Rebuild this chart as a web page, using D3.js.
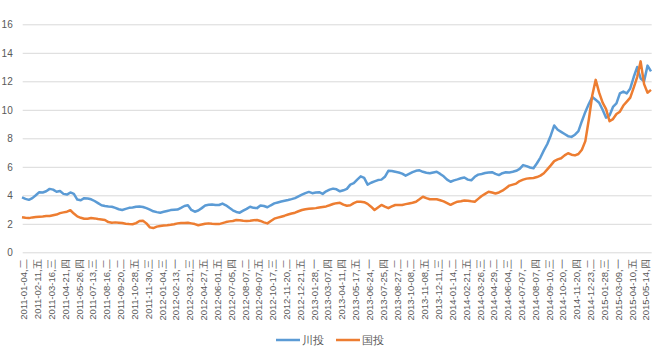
<!DOCTYPE html>
<html>
<head>
<meta charset="utf-8">
<script src="https://cdn.jsdelivr.net/npm/d3@7"></script>
<style>
body { margin: 0; background: #fff; }
text { font-family: "Liberation Sans", Arial, sans-serif; fill: #595959; }
</style>
</head>
<body>
<div id="chart"></div>
<script>
// one label every 4 points (points are ~6 trading days apart)
const tickLabels = [
  '2011-01-04,二','2011-02-11,五','2011-03-16,三','2011-04-21,四','2011-05-26,四',
  '2011-07-13,三','2011-08-16,二','2011-09-20,二','2011-10-28,五','2011-11-30,三',
  '2012-01-04,三','2012-02-13,一','2012-03-21,三','2012-04-27,五','2012-06-01,五',
  '2012-07-05,四','2012-08-07,二','2012-09-07,五','2012-10-17,三','2012-11-20,二',
  '2012-12-21,五','2013-01-28,一','2013-03-07,四','2013-04-11,四','2013-05-17,五',
  '2013-06-24,一','2013-07-25,四','2013-08-27,二','2013-10-08,二','2013-11-08,五',
  '2013-12-11,三','2014-01-14,二','2014-02-21,五','2014-03-26,三','2014-04-29,二',
  '2014-06-04,三','2014-07-07,一','2014-08-07,四','2014-09-10,三','2014-10-20,一',
  '2014-11-20,四','2014-12-23,二','2015-01-28,三','2015-03-09,一','2015-04-10,五',
  '2015-05-14,四'
];
const perTick = 4;

const chuantou = [
  3.85,3.75,3.68,3.80,4.00,4.22,4.20,4.28,4.45,4.40,
  4.25,4.30,4.10,4.05,4.20,4.10,3.70,3.65,3.80,3.78,
  3.72,3.60,3.45,3.30,3.25,3.22,3.20,3.12,3.02,2.97,
  3.05,3.12,3.15,3.20,3.22,3.18,3.10,3.00,2.88,2.82,
  2.78,2.84,2.90,2.96,2.98,3.00,3.12,3.25,3.30,2.97,
  2.85,2.93,3.10,3.28,3.33,3.35,3.32,3.32,3.42,3.30,
  3.12,2.95,2.83,2.78,2.92,3.05,3.20,3.12,3.10,3.28,
  3.25,3.16,3.30,3.43,3.50,3.56,3.62,3.67,3.73,3.80,
  3.92,4.04,4.15,4.24,4.15,4.20,4.22,4.10,4.28,4.40,
  4.47,4.42,4.28,4.35,4.45,4.75,4.85,5.10,5.33,5.22,
  4.75,4.88,4.98,5.07,5.10,5.30,5.72,5.70,5.65,5.60,
  5.52,5.38,5.50,5.62,5.72,5.75,5.65,5.58,5.55,5.60,
  5.65,5.50,5.33,5.10,4.95,5.05,5.12,5.20,5.25,5.10,
  5.05,5.30,5.45,5.50,5.56,5.60,5.62,5.50,5.42,5.55,
  5.62,5.60,5.65,5.72,5.85,6.12,6.05,5.95,5.90,6.25,
  6.65,7.15,7.60,8.20,8.90,8.60,8.45,8.30,8.15,8.10,
  8.25,8.50,9.20,9.85,10.40,10.90,10.70,10.50,10.00,9.45,
  9.60,10.20,10.45,11.15,11.28,11.15,11.50,12.30,13.00,12.20,
  12.00,13.10,12.70
];

const guotou = [
  2.46,2.42,2.40,2.45,2.48,2.50,2.52,2.55,2.55,2.60,
  2.65,2.75,2.80,2.85,2.95,2.72,2.52,2.42,2.35,2.36,
  2.40,2.38,2.33,2.30,2.27,2.12,2.08,2.10,2.08,2.05,
  2.00,1.98,1.97,2.05,2.20,2.22,2.03,1.75,1.70,1.80,
  1.85,1.88,1.90,1.93,1.97,2.03,2.05,2.06,2.08,2.03,
  1.98,1.90,1.95,2.00,2.03,2.00,1.98,1.98,2.05,2.12,
  2.17,2.20,2.27,2.25,2.22,2.20,2.22,2.25,2.27,2.20,
  2.10,2.03,2.20,2.36,2.43,2.50,2.57,2.65,2.72,2.78,
  2.88,2.97,3.02,3.05,3.08,3.10,3.14,3.18,3.22,3.30,
  3.39,3.45,3.47,3.35,3.27,3.30,3.45,3.55,3.55,3.52,
  3.40,3.20,2.97,3.15,3.32,3.20,3.10,3.22,3.32,3.32,
  3.32,3.38,3.43,3.48,3.55,3.72,3.90,3.80,3.72,3.72,
  3.72,3.65,3.57,3.45,3.33,3.45,3.55,3.58,3.64,3.62,
  3.58,3.55,3.75,3.95,4.10,4.25,4.20,4.13,4.20,4.32,
  4.50,4.68,4.75,4.82,5.00,5.10,5.17,5.20,5.22,5.28,
  5.38,5.55,5.82,6.10,6.40,6.52,6.60,6.80,6.95,6.85,
  6.80,6.90,7.20,7.80,9.30,11.00,12.10,11.20,10.50,10.05,
  9.20,9.35,9.70,9.87,10.30,10.57,10.85,11.55,12.30,13.40,
  11.80,11.20,11.40
];

const yTicks = [0, 2, 4, 6, 8, 10, 12, 14, 16];

const width = 660;
const height = 351;
const plotLeft = 22.7, plotRight = 651.7, plotTop = 24.3, plotBottom = 252.3;

const svg = d3.select('#chart')
  .append('svg')
  .attr('width', width)
  .attr('height', height);

const x = d3.scalePoint()
  .domain(d3.range(chuantou.length))
  .range([22, 651]);

const y = d3.scaleLinear()
  .domain([0, 16])
  .range([plotBottom, plotTop]);

// y axis with gridlines
const yAxis = svg.append('g')
  .attr('transform', `translate(${plotLeft},0)`)
  .call(d3.axisLeft(y).tickValues(yTicks).tickSize(-(plotRight - plotLeft)).tickPadding(10));
yAxis.select('.domain').remove();
yAxis.selectAll('line').attr('stroke', '#d9d9d9').attr('stroke-width', 1);
yAxis.selectAll('text').style('font-size', '10px').attr('fill', '#595959');

// x axis, rotated category labels
const xAxis = svg.append('g')
  .attr('transform', `translate(0,${plotBottom})`)
  .call(d3.axisBottom(x)
    .tickValues(d3.range(0, chuantou.length, perTick))
    .tickFormat(i => tickLabels[i / perTick])
    .tickSize(0));
xAxis.select('.domain').remove();
xAxis.selectAll('text')
  .attr('transform', 'rotate(-90)')
  .attr('text-anchor', 'end')
  .attr('x', -7)
  .attr('y', 1.5)
  .attr('dy', '0.35em')
  .style('font-size', '9.5px')
  .attr('fill', '#595959');

const line = d3.line()
  .x((d, i) => x(i))
  .y(d => y(d));

svg.append('path')
  .datum(chuantou)
  .attr('fill', 'none')
  .attr('stroke', '#5b9bd5')
  .attr('stroke-width', 2.5)
  .attr('stroke-linejoin', 'round')
  .attr('d', line);

svg.append('path')
  .datum(guotou)
  .attr('fill', 'none')
  .attr('stroke', '#ed7d31')
  .attr('stroke-width', 2.5)
  .attr('stroke-linejoin', 'round')
  .attr('d', line);

// legend
const legend = [
  {name: '川投', color: '#5b9bd5', x: 276},
  {name: '国投', color: '#ed7d31', x: 336}
];
const lg = svg.append('g').selectAll('g')
  .data(legend)
  .join('g')
  .attr('transform', d => `translate(${d.x},340)`);
lg.append('line')
  .attr('x1', 0).attr('x2', 24)
  .attr('stroke', d => d.color)
  .attr('stroke-width', 2.5);
lg.append('text')
  .attr('x', 26)
  .attr('dy', '0.35em')
  .style('font-size', '11px')
  .text(d => d.name);
</script>
</body>
</html>
